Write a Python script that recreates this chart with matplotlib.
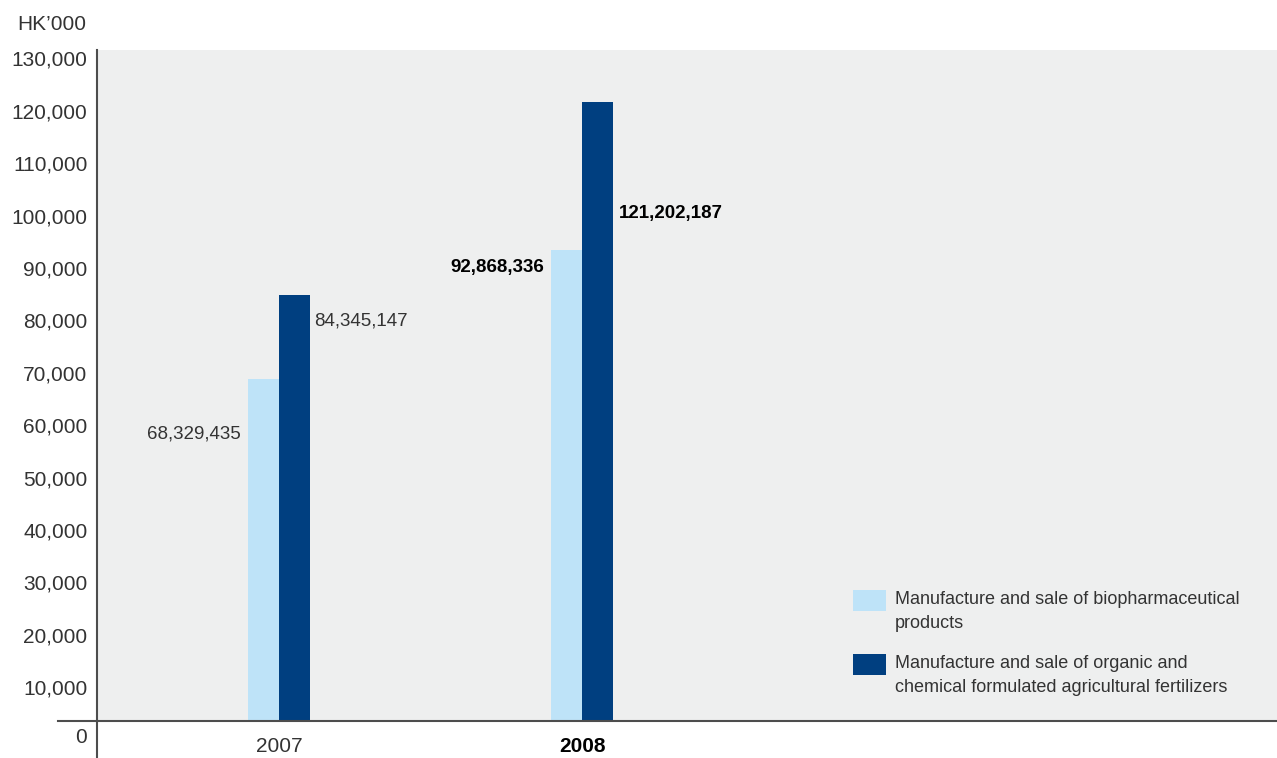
import matplotlib
matplotlib.use("Agg")
import matplotlib.pyplot as plt
import matplotlib.transforms as mtrans
from matplotlib.patches import Rectangle
from matplotlib.lines import Line2D
import numpy as np

# ---- data ----
years = ["2007", "2008"]
biopharma = [68329.435, 92868.336]          # HK'000
fertilizers = [84345.147, 121202.187]       # HK'000
bio_labels = ["68,329,435", "92,868,336"]
fert_labels = ["84,345,147", "121,202,187"]
series_names = ["Manufacture and sale of biopharmaceutical\nproducts",
                "Manufacture and sale of organic and\nchemical formulated agricultural fertilizers"]
yticks = list(range(10000, 130001, 10000))
y_unit = "HK\u2019000"

LIGHT = "#bee3f8"
DARK = "#003f80"
BG = "#eeefef"
AX = "#4d4d4d"
TXT = "#333333"
FONT = "Liberation Sans"
plt.rcParams['font.family'] = [FONT, 'DejaVu Sans']

W, H = 1277, 758
fig = plt.figure(figsize=(W / 100, H / 100), dpi=100)
fig.patch.set_facecolor("white")

def fx(x):
    return x / W

def fy(y):
    return 1 - y / H

ax = fig.add_axes([fx(97), fy(721), fx(1277) - fx(97), fy(50) - fy(721)])
ax.set_facecolor(BG)
for s in ax.spines.values():
    s.set_visible(False)

x = np.arange(len(years))
bw = 0.1023
ax.bar(x - bw / 2, biopharma, width=bw, color=LIGHT, zorder=2)
ax.bar(x + bw / 2, fertilizers, width=bw, color=DARK, zorder=2)

XL = -0.6007
ax.set_xlim(XL, 3.2937)
ax.set_ylim(3054, 131130)

ax.set_yticks(yticks)
ax.set_yticklabels([f"{v:,}" for v in yticks], fontsize=15, color=TXT)
ax.tick_params(axis="y", length=0, pad=7)
ax.tick_params(axis="x", length=0)
ax.set_xticks([])
shift = mtrans.ScaledTranslation(0, -2.5 / 100, fig.dpi_scale_trans)
for lab in ax.get_yticklabels():
    lab.set_transform(lab.get_transform() + shift)

# "0" label (below axis bottom, at data 0)
ax.text(XL - 10 / 303, 0, "0", ha="right", va="center", fontsize=15,
        color=TXT, clip_on=False)

# x category labels
for i, yr in enumerate(years):
    ax.text(x[i], -26 / 671, yr, transform=ax.get_xaxis_transform(), ha="center",
            va="center", fontsize=15, color=TXT if i == 0 else "black",
            fontweight="normal" if i == 0 else "bold")

# value labels (offsets in pixels relative to bar top)
bio_off = [-55, -17]
fert_off = [-26, -111]
styles = [dict(color=TXT, fontweight="normal"), dict(color="black", fontweight="bold")]
for i in range(len(years)):
    ax.annotate(bio_labels[i], (x[i] - bw, biopharma[i]), xytext=(-5, bio_off[i] * 0.72),
                textcoords="offset points", ha="right", va="center", fontsize=13.5, **styles[i])
    ax.annotate(fert_labels[i], (x[i] + bw, fertilizers[i]), xytext=(3 + 1.5 * i, fert_off[i] * 0.72),
                textcoords="offset points", ha="left", va="center", fontsize=13.5, **styles[i])

# unit label
fig.text(fx(86), fy(25), y_unit, ha="right", va="center", fontsize=15, color=TXT)

# axis lines
fig.add_artist(Line2D([fx(58), fx(1277)], [fy(721), fy(721)], color=AX, lw=1.5))
fig.add_artist(Line2D([fx(97), fx(97)], [fy(50), fy(758)], color=AX, lw=1.5))

# legend
for (col, name, ytop) in [(LIGHT, series_names[0], 590), (DARK, series_names[1], 654)]:
    fig.add_artist(Rectangle((fx(853), fy(ytop + 21)), fx(886) - fx(853), fy(ytop) - fy(ytop + 21),
                             transform=fig.transFigure, facecolor=col, edgecolor="none"))
    fig.text(fx(895), fy(ytop + 1.5), name, ha="left", va="top", fontsize=13,
             color=TXT, linespacing=1.52)

fig.savefig("out.png", dpi=100)
